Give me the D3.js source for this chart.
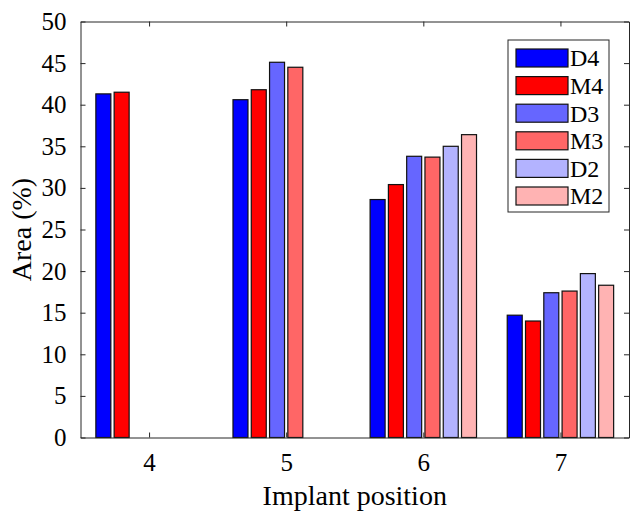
<!DOCTYPE html>
<html>
<head>
<meta charset="utf-8">
<script src="https://cdn.jsdelivr.net/npm/d3@7"></script>
<style>
  body { margin: 0; background: #fff; }
  svg { font-family: "Liberation Serif", "Times New Roman", serif; }
</style>
</head>
<body>
<div id="chart"></div>
<script>
// data
var positions = [4, 5, 6, 7];
var seriesNames = ["D4", "M4", "D3", "M3", "D2", "M2"];
var D4 = [41.3, 40.6, 28.6, 14.7];
var M4 = [41.5, 41.8, 30.4, 14.0];
var D3 = [null, 45.1, 33.8, 17.4];
var M3 = [null, 44.5, 33.7, 17.6];
var D2 = [null, null, 35.0, 19.7];
var M2 = [null, null, 36.4, 18.3];
var yTicks = [0, 5, 10, 15, 20, 25, 30, 35, 40, 45, 50];

var seriesValues = [D4, M4, D3, M3, D2, M2];
var colors = ["#0000ff", "#ff0000", "#6666ff", "#ff6666", "#b3b3ff", "#ffb3b3"];

// set the dimensions and margins of the graph
var margin = {top: 21.5, right: 5, bottom: 74.5, left: 80.5},
    width = 634 - margin.left - margin.right,
    height = 512 - margin.top - margin.bottom;

var svg = d3.select("#chart")
  .append("svg")
    .attr("width", 634)
    .attr("height", 512)
  .append("g")
    .attr("transform", "translate(" + margin.left + "," + margin.top + ")");

// scales
var x = d3.scaleLinear().domain([3.5, 7.5]).range([0, width]);
var unit = x(5) - x(4);
var inner = d3.scaleBand()
    .domain(seriesNames)
    .range([-0.4 * unit, 0.4 * unit])
    .paddingInner(0.18)
    .paddingOuter(0.09);
var y = d3.scaleLinear().domain([0, 50]).range([height, 0]);

// bars
var rows = [];
positions.forEach(function(p, i) {
  seriesNames.forEach(function(s, j) {
    if (seriesValues[j][i] != null) rows.push({pos: p, name: s, value: seriesValues[j][i], color: colors[j]});
  });
});

svg.selectAll("rect.bar")
  .data(rows)
  .enter()
  .append("rect")
    .attr("class", "bar")
    .attr("x", function(d) { return x(d.pos) + inner(d.name); })
    .attr("y", function(d) { return y(d.value); })
    .attr("width", inner.bandwidth())
    .attr("height", function(d) { return height - y(d.value); })
    .attr("fill", function(d) { return d.color; })
    .attr("stroke", "#111")
    .attr("stroke-width", 1.2);

// axes
var axisColor = "#262626";

var xAxis = svg.append("g")
  .attr("transform", "translate(0," + height + ")")
  .call(d3.axisBottom(x).tickValues(positions).tickFormat(d3.format("d"))
        .tickSizeInner(-5).tickSizeOuter(0).tickPadding(16));

var yAxis = svg.append("g")
  .call(d3.axisLeft(y).tickValues(yTicks).tickSizeInner(-5).tickSizeOuter(0).tickPadding(14));

var topAxis = svg.append("g")
  .call(d3.axisTop(x).tickValues(positions).tickFormat("").tickSizeInner(-5).tickSizeOuter(0));

var rightAxis = svg.append("g")
  .attr("transform", "translate(" + width + ",0)")
  .call(d3.axisRight(y).tickValues(yTicks).tickFormat("").tickSizeInner(-5).tickSizeOuter(0));

[xAxis, yAxis, topAxis, rightAxis].forEach(function(a) {
  a.select(".domain").attr("stroke", axisColor).attr("stroke-width", 1);
  a.selectAll(".tick line").attr("stroke", axisColor);
  a.selectAll("text")
    .attr("fill", "#000")
    .style("font-family", "'Liberation Serif', serif")
    .style("font-size", "25px");
});

// axis labels
svg.append("text")
  .attr("text-anchor", "middle")
  .attr("transform", "translate(" + (-50) + "," + (height / 2) + ") rotate(-90)")
  .style("font-size", "28px")
  .text("Area (%)");

svg.append("text")
  .attr("text-anchor", "middle")
  .attr("x", width / 2)
  .attr("y", height + 67)
  .style("font-size", "28px")
  .text("Implant position");

// legend
var legend = svg.append("g")
  .attr("transform", "translate(" + (508 - margin.left) + "," + (40 - margin.top) + ")");

legend.append("rect")
  .attr("width", 101)
  .attr("height", 172)
  .attr("fill", "#fff")
  .attr("stroke", axisColor)
  .attr("stroke-width", 1);

var item = legend.selectAll("g.item")
  .data(seriesNames)
  .enter()
  .append("g")
    .attr("class", "item")
    .attr("transform", function(d, i) { return "translate(8," + (9 + i * 27.6) + ")"; });

item.append("rect")
  .attr("width", 52)
  .attr("height", 18)
  .attr("fill", function(d, i) { return colors[i]; })
  .attr("stroke", "#111")
  .attr("stroke-width", 1.2);

item.append("text")
  .attr("x", 54)
  .attr("y", 9)
  .attr("dy", "0.35em")
  .style("font-size", "24px")
  .text(function(d) { return d; });
</script>
</body>
</html>
